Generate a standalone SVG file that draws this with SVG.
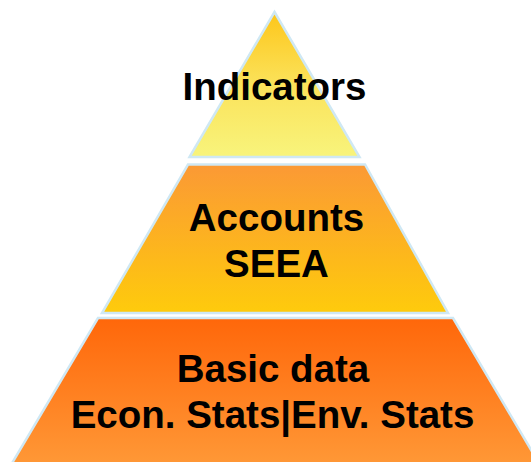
<svg xmlns="http://www.w3.org/2000/svg" width="531" height="462" viewBox="0 0 531 462">
  <style>
    .tier { stroke: #cfe8f4; stroke-width: 2.5; stroke-linejoin: miter; }
    .label { font-family: "Liberation Sans", Arial, sans-serif; font-weight: bold; font-size: 38.5px; fill: #000; text-anchor: middle; }
  </style>
  <defs>
    <linearGradient id="gTop" x1="0" y1="0" x2="0" y2="1">
      <stop offset="0" stop-color="#fdc61a"/>
      <stop offset="0.5" stop-color="#fbe25a"/>
      <stop offset="1" stop-color="#f8f47c"/>
    </linearGradient>
    <linearGradient id="gMid" x1="0" y1="0" x2="0" y2="1">
      <stop offset="0" stop-color="#fb9935"/>
      <stop offset="1" stop-color="#fecb0c"/>
    </linearGradient>
    <linearGradient id="gBot" x1="0" y1="0" x2="0" y2="1">
      <stop offset="0" stop-color="#ff670a"/>
      <stop offset="1" stop-color="#ff9a38"/>
    </linearGradient>
  </defs>
  <rect width="531" height="462" fill="#ffffff"/>
  <g id="indicators">
    <polygon class="tier" fill="url(#gTop)" points="274.5,12 359.5,157 189.5,157"/>
    <text class="label" x="274.5" y="99.5">Indicators</text>
  </g>
  <g id="accounts">
    <polygon class="tier" fill="url(#gMid)" points="188,164.5 365,164.5 448,313 102,313"/>
    <text class="label" x="276.5" y="231">Accounts</text>
    <text class="label" x="276.5" y="276.5">SEEA</text>
  </g>
  <g id="basic-data">
    <polygon class="tier" fill="url(#gBot)" points="98,318 453,318 543,470 8,470"/>
    <text class="label" x="273" y="381.5">Basic data</text>
    <text class="label" x="272.5" y="428">Econ. Stats|Env. Stats</text>
  </g>
  <g id="connectors"/>
</svg>
